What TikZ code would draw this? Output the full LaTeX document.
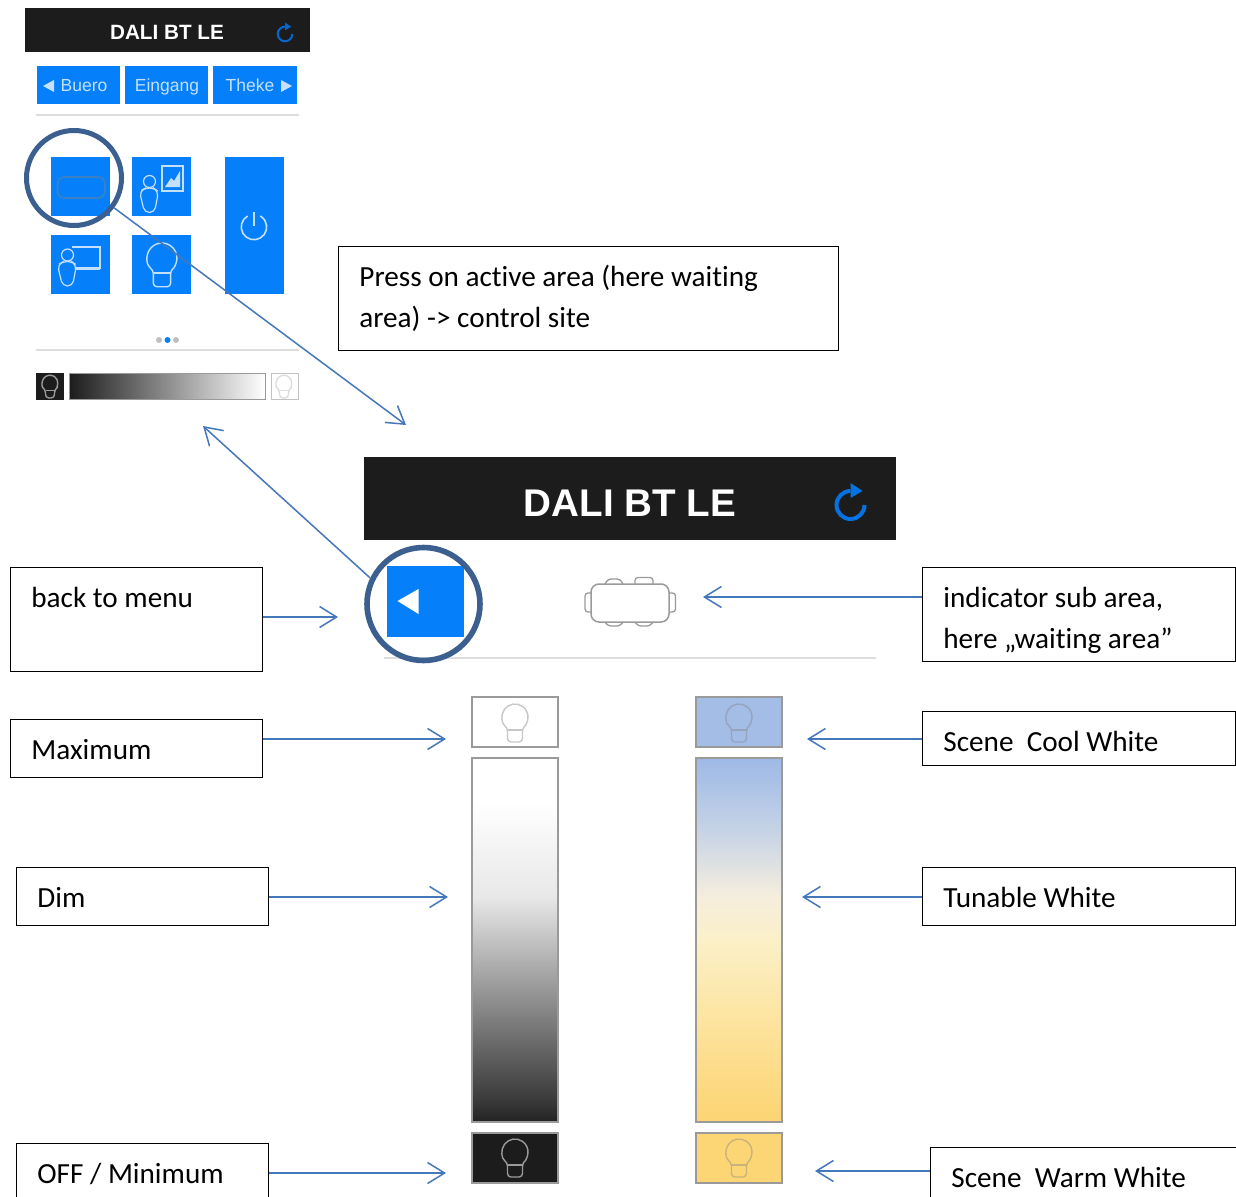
\documentclass[tikz,border=0pt]{standalone}
\usepackage{fontspec}
\setmainfont[Ligatures=NoCommon]{Carlito}
\newfontfamily\uifont{Liberation Sans}
\usetikzlibrary{arrows.meta}
\definecolor{appblue}{HTML}{0580FA}
\definecolor{appblack}{HTML}{1C1C1C}
\definecolor{ringblue}{HTML}{3B5F8E}
\definecolor{arrowblue}{HTML}{4577BB}
\definecolor{rulegray}{HTML}{DDDDDD}
\definecolor{edgegray}{HTML}{9A9A9A}
\definecolor{iconpale}{HTML}{C4E0FC}
\definecolor{coolblue}{HTML}{A3BDE6}
\definecolor{warmyellow}{HTML}{FCD575}
\definecolor{gA}{HTML}{222222}\definecolor{gB}{HTML}{3A3A3A}\definecolor{gC}{HTML}{909090}\definecolor{gD}{HTML}{E8E8E8}
\definecolor{tA}{HTML}{FCD472}\definecolor{tB}{HTML}{FDE29A}\definecolor{tC}{HTML}{FBF0C8}\definecolor{tD}{HTML}{F5EEDD}\definecolor{tE}{HTML}{C6D3E6}\definecolor{tF}{HTML}{9DB9E6}
\pgfdeclareverticalshading{dimbar}{100bp}{color(0bp)=(gA);color(25bp)=(gA);color(28bp)=(gB);color(42bp)=(gC);color(56bp)=(gD);color(69bp)=(white);color(100bp)=(white)}
\pgfdeclareverticalshading{tunebar}{100bp}{color(0bp)=(tA);color(25bp)=(tA);color(37.5bp)=(tB);color(50bp)=(tC);color(56bp)=(tD);color(65bp)=(tE);color(75bp)=(tF);color(100bp)=(tF)}
\newcommand\lbl[3]{\parbox[c][#2pt][t]{#1pt}{\fontsize{29.2}{41.5}\selectfont\parindent=0pt\leftskip=21pt\rightskip=0pt plus 1fil\vspace*{16pt}\rule{0pt}{24pt}#3}}
\newcommand\bulbicon[4]{\begin{scope}[shift={(#1,#2)},scale=#3]
  \draw[draw=#4,line width=1.4pt,rounded corners=3.5pt] (-7.5,10.6) arc[start angle=125.2,end angle=414.8,radius=13] -- (7.5,25) -- (-7.5,25) -- cycle;
  \draw[draw=#4,line width=1.2pt] (-7.5,13) -- (7.5,13);
\end{scope}}
\newcommand\personicon[2]{\begin{scope}[shift={(#1,#2)}]
  \draw[draw=iconpale,line width=1.2pt] (0,0) circle[radius=6];
  \draw[draw=iconpale,line width=1.2pt,rounded corners=5pt] (-4,6.5) -- (4,6.5) -- (9,10) -- (5,31) -- (-5,31) -- (-10,10) -- cycle;
\end{scope}}
\newcommand\refreshicon[4]{\begin{scope}[shift={(#1,#2)},scale=#3]
  \draw[draw=#4,line width=#3*4pt] (0,-14) arc[start angle=-90,end angle=-360,radius=14];
  \fill[#4] (0,-22) -- (12,-14) -- (0,-7) -- cycle;
\end{scope}}
\tikzset{
  x=1pt,y=-1pt,
  lblbox/.style={draw=black,line width=1.8pt,rectangle,inner sep=0pt,anchor=north west},
  ring/.style={circle,draw=ringblue,inner sep=0pt,fill=none},
  conn/.style={draw=arrowblue,line width=1.5pt,-{Straight Barb[length=17pt,width=21pt,line width=1.5pt]}},
  title/.style={text=white,inner sep=0pt,anchor=base},
  tabtext/.style={font=\uifont\fontsize{17.5}{20}\selectfont,text=iconpale,inner sep=0pt,anchor=base},
  appbutton/.style={fill=appblue},
  swatch/.style={draw=edgegray,line width=1.4pt},
}
\begin{document}
\begin{tikzpicture}
\useasboundingbox (0,0) rectangle (1236,1196);
\clip (0,0) rectangle (1236,1196);
\fill[white] (0,0) rectangle (1236,1196);

% small screen
\fill[appblack] (25,8) rectangle (310,52);
\node[title,font=\uifont\bfseries\fontsize{20.7}{24}\selectfont] (smalltitle) at (167,40) {DALI BT LE};
\refreshicon{285}{34}{0.52}{appblue!80!black}
\fill[appbutton] (37,66) rectangle (120,104);
\fill[appbutton] (125,66) rectangle (208,104);
\fill[appbutton] (213,66) rectangle (297,104);
\fill[iconpale] (43,86) -- (54,80) -- (54,92) -- cycle;
\fill[iconpale] (292,86) -- (281,80) -- (281,92) -- cycle;
\node[tabtext] (tabA) at (84,92) {Buero};
\node[tabtext] (tabB) at (167,92) {Eingang};
\node[tabtext] (tabC) at (250,92) {Theke};
\draw[rulegray,line width=1.5pt] (36,115) -- (299,115);
\fill[appbutton] (51,157) rectangle (110,216);
\fill[appbutton] (132,157) rectangle (191,216);
\fill[appbutton] (51,235) rectangle (110,294);
\fill[appbutton] (132,235) rectangle (191,294);
\fill[appbutton] (225,157) rectangle (284,294);
% waiting area icon
\draw[draw=appblue!55!gray,line width=1.6pt,rounded corners=7pt] (57.5,177) rectangle (105,198);
% person + picture
\personicon{149.5}{181.5}
\draw[draw=iconpale,line width=1.2pt] (162,166) rectangle (183,191);
\fill[iconpale] (165,187) -- (171,178) -- (174,181) -- (180,171) -- (180,187) -- cycle;
% person + monitor
\draw[draw=iconpale,line width=1.2pt] (72,247) -- (100,247) -- (100,268) -- (76,268);
\draw[draw=iconpale,line width=1.6pt] (76,269.5) -- (100,269.5);
\personicon{67.5}{255}
% bulb
\bulbicon{162}{258}{1.15}{iconpale}
% power
\draw[draw=iconpale,line width=1.6pt] (254,211.5) -- (254,226);
\draw[draw=iconpale,line width=1.6pt] (247.6,216) arc[start angle=-120,end angle=-420,radius=12.7];
% page dots
\fill[gray!50] (159,340) circle[radius=3];
\fill[appblue] (167.5,340) circle[radius=3];
\fill[gray!50] (176,340) circle[radius=3];
\draw[rulegray,line width=1.5pt] (36,350) -- (299,350);
% small slider
\fill[appblack] (36,373) rectangle (64,400);
\bulbicon{50}{383}{0.6}{edgegray}
\shade[left color=appblack,middle color=black!30,right color=white,draw=edgegray,line width=1pt] (69,373) rectangle (265,399);
\draw[draw=edgegray!60,line width=1pt] (271,373) rectangle (298,399);
\bulbicon{284}{383}{0.6}{rulegray}

% large screen
\fill[appblack] (364,457) rectangle (896,540);
\node[title,font=\uifont\bfseries\fontsize{38.6}{44}\selectfont] (bigtitle) at (630,516) {DALI BT LE};
\refreshicon{850.5}{505}{1}{appblue!90!black}
\fill[appbutton] (387,566) rectangle (464,637);
\fill[white] (397.5,601) -- (418.5,589) -- (418.5,614) -- cycle;
\draw[draw=edgegray,line width=1.3pt,rounded corners=3pt] (605,584) -- (608,579) -- (620,579) -- (623,584);
\draw[draw=edgegray,line width=1.3pt,rounded corners=3pt] (635,584) -- (635,577.5) -- (653,577.5) -- (653,584);
\draw[draw=edgegray,line width=1.3pt,rounded corners=3pt] (605,622) -- (608,626) -- (620,626) -- (623,622);
\draw[draw=edgegray,line width=1.3pt,rounded corners=3pt] (635,622) -- (638,626) -- (650,626) -- (653,622);
\draw[draw=edgegray,line width=1.3pt,rounded corners=3pt] (591,593) -- (585,593) -- (585,612) -- (591,612);
\draw[draw=edgegray,line width=1.3pt,rounded corners=3pt] (669,593) -- (675.5,593) -- (675.5,612) -- (669,612);
\draw[draw=edgegray,line width=1.5pt,rounded corners=8pt] (591,584) rectangle (669,622);
\draw[rulegray,line width=1.5pt] (384,658) -- (876,658);

% sliders
\draw[swatch,fill=white] (472,697) rectangle (558,747);
\bulbicon{515}{717}{1}{rulegray!90!black}
\draw[swatch,fill=coolblue] (696,697) rectangle (782,747);
\bulbicon{739}{717}{1}{coolblue!60!gray}
\shade[shading=dimbar,draw=edgegray,line width=1.4pt] (472,758) rectangle (558,1122);
\shade[shading=tunebar,draw=edgegray,line width=1.4pt] (696,758) rectangle (782,1122);
\draw[swatch,fill=appblack] (472,1133) rectangle (558,1183);
\bulbicon{515}{1152}{1}{edgegray}
\draw[swatch,fill=warmyellow] (696,1133) rectangle (782,1183);
\bulbicon{739}{1152}{1}{warmyellow!60!gray}

% rings
\node[ring,line width=5pt,minimum size=95pt] (ringA) at (74,178) {};
\node[ring,line width=5.6pt,minimum size=113pt] (ringB) at (423.5,604) {};

% label boxes
\node[lblbox] (press) at (337.5,245.5) {\lbl{500}{104}{Press on active area (here waiting\\area) -> control site}};
\node[lblbox] (back) at (9.5,566.5) {\lbl{252}{104}{back to menu}};
\node[lblbox] (indicator) at (921.5,566.5) {\lbl{313}{94}{indicator sub area,\\here „waiting area”}};
\node[lblbox] (maximum) at (9.5,718.5) {\lbl{252}{58}{Maximum}};
\node[lblbox] (dim) at (15.5,866.5) {\lbl{252}{58}{Dim}};
\node[lblbox] (off) at (15.5,1142.5) {\lbl{252}{60}{OFF / Minimum}};
\node[lblbox] (cool) at (921.5,710.5) {\lbl{313}{54}{Scene\ \ Cool White}};
\node[lblbox] (tunable) at (921.5,866.5) {\lbl{313}{58}{Tunable White}};
\node[lblbox] (warm) at (929.5,1146.5) {\lbl{320}{60}{Scene\ \ Warm White}};

% connector ends
\coordinate (tipA) at (406,425);
\coordinate (tipB) at (203,426);
\coordinate (tipBack) at (338,617);
\coordinate (tipInd) at (703,597);
\coordinate (tipMax) at (446,739);
\coordinate (tipCool) at (807,739);
\coordinate (tipDim) at (448,897);
\coordinate (tipTune) at (802,897);
\coordinate (tipOff) at (446,1173);
\coordinate (tipWarm) at (815,1171);

\draw[conn] (ringA) -- (tipA);
\draw[conn] (ringB.154) -- (tipB);
\draw[conn] (back.east |- tipBack) -- (tipBack);
\draw[conn] (indicator.west |- tipInd) -- (tipInd);
\draw[conn] (maximum.east |- tipMax) -- (tipMax);
\draw[conn] (cool.west |- tipCool) -- (tipCool);
\draw[conn] (dim.east |- tipDim) -- (tipDim);
\draw[conn] (tunable.west |- tipTune) -- (tipTune);
\draw[conn] (off.east |- tipOff) -- (tipOff);
\draw[conn] (warm.west |- tipWarm) -- (tipWarm);
\end{tikzpicture}
\end{document}
